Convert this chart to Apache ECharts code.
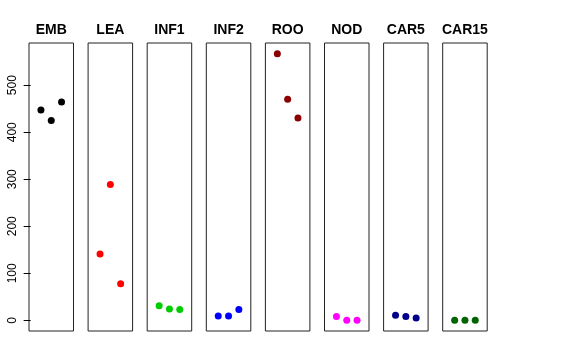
<!DOCTYPE html>
<html><head><meta charset="utf-8">
<script src="https://cdn.jsdelivr.net/npm/echarts@6/dist/echarts.min.js"></script>
<style>html,body{margin:0;padding:0;background:#fff}#c{width:576px;height:360px}</style>
</head><body><div id="c"></div>
<script>
const panels = ['EMB','LEA','INF1','INF2','ROO','NOD','CAR5','CAR15'];
const colors = ['#000000','#FF0000','#00CD00','#0000FF','#8B0000','#FF00FF','#00008B','#006400'];
const EMB = [447, 425, 464];
const LEA = [141, 289, 78];
const INF1 = [31, 24, 23];
const INF2 = [9, 9, 23];
const ROO = [567, 470, 430];
const NOD = [8, 0, 0];
const CAR5 = [11, 8, 5];
const CAR15 = [0, 0, 0];
const values = [EMB, LEA, INF1, INF2, ROO, NOD, CAR5, CAR15];
const yTicks = [0, 100, 200, 300, 400, 500];

const yMin = -22.7, yMax = 589.7;
const grids = [], xAxes = [], yAxes = [], series = [], titles = [];
const left0 = 29, step = 59.1, pw = 44.5, ptop = 43, ph = 288;
panels.forEach((name, i) => {
  const l = left0 + i * step;
  grids.push({left: l, top: ptop, width: pw, height: ph, show: true,
    borderColor: '#222', borderWidth: 1, backgroundColor: 'transparent', containLabel: false});
  xAxes.push({type: 'value', gridIndex: i, min: -0.16, max: 4.16, show: false});
  yAxes.push({type: 'value', gridIndex: i, min: yMin, max: yMax, show: i === 0,
    splitLine: {show: false},
    axisLine: {show: false},
    axisTick: {show: true, length: 7, lineStyle: {color: '#000'}, customValues: yTicks},
    axisLabel: {show: true, rotate: 90, margin: 10, fontSize: 12, color: '#000',
      fontFamily: 'Liberation Sans, Arial, sans-serif', customValues: yTicks}
  });
  series.push({type: 'scatter', xAxisIndex: i, yAxisIndex: i,
    data: values[i].map((v, j) => [j + 1, v]),
    symbol: 'circle', symbolSize: 7, itemStyle: {color: colors[i], opacity: 1}, silent: true});
  titles.push({text: name, left: l + pw / 2, top: 23, padding: 0, textAlign: 'center',
    textStyle: {fontSize: 14, fontWeight: 'bold', color: '#000', fontFamily: 'Liberation Sans, Arial, sans-serif'}});
});

const chart = echarts.init(document.getElementById('c'), null, {renderer: 'canvas'});
chart.setOption({
  animation: false,
  title: titles,
  grid: grids, xAxis: xAxes, yAxis: yAxes, series: series
});
</script></body></html>
